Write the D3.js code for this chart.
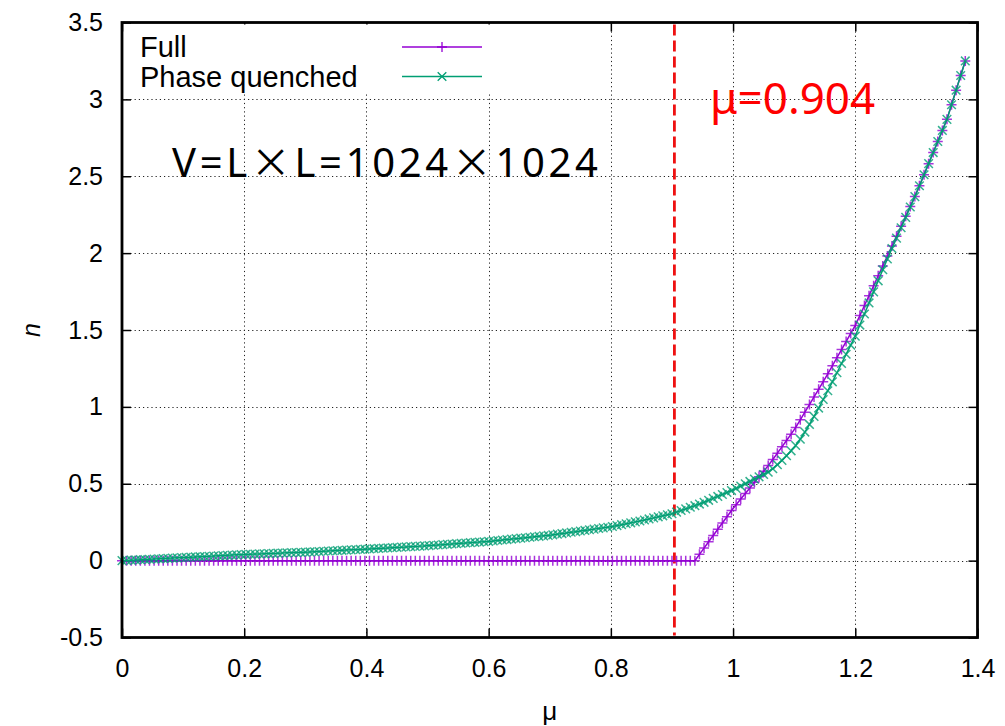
<!DOCTYPE html>
<html>
<head>
<meta charset="utf-8">
<script src="https://cdn.jsdelivr.net/npm/d3@7"></script>
<style>
    body { margin: 0; background: #fff; }
    svg { display: block; }
    .tick text { font-family: "Liberation Sans", Arial, sans-serif; }
</style>
</head>
<body>
<script>
// chemical potential grid (x) -- one point every 0.0075
var muStep = 0.0075;

// density n, full ensemble
var full = [
    0, 0, 0, 0, 0, 0, 0, 0, 0, 0, 0, 0, 0, 0, 0, 0, 0, 0, 0, 0,
    0, 0, 0, 0, 0, 0, 0, 0, 0, 0, 0, 0, 0, 0, 0, 0, 0, 0, 0, 0,
    0, 0, 0, 0, 0, 0, 0, 0, 0, 0, 0, 0, 0, 0, 0, 0, 0, 0, 0, 0,
    0, 0, 0, 0, 0, 0, 0, 0, 0, 0, 0, 0, 0, 0, 0, 0, 0, 0, 0, 0,
    0, 0, 0, 0, 0, 0, 0, 0, 0, 0, 0, 0, 0, 0, 0, 0, 0, 0, 0, 0,
    0, 0, 0, 0, 0, 0, 0, 0, 0, 0, 0, 0, 0, 0, 0, 0, 0, 0, 0, 0,
    0, 0, 0, 0, 0, 0,
    .0408, .0816, .1224, .1632,
    .204, .2448, .2856, .3264, .364, .4005, .4368, .473, .5093, .5455,
    .5818, .618, .6575, .6988, .74, .7813, .8225, .8665, .916, .9655,
    1.015, 1.0645, 1.114, 1.1635, 1.215, 1.2675, 1.32, 1.3725, 1.425, 1.4775,
    1.53, 1.5945, 1.659, 1.7235, 1.788, 1.8525, 1.917, 1.9815, 2.046, 2.1105,
    2.175, 2.2395, 2.304, 2.3685, 2.438, 2.51, 2.582, 2.654, 2.726, 2.798,
    2.87, 2.965, 3.06, 3.155, 3.25
];

// density n, phase quenched
var quenched = [
    0, .0015, .003, .0045, .006, .0075, .009, .0105, .012, .0135,
    .015, .0165, .018, .0195, .021, .0225, .024, .0255, .027, .0285,
    .030, .0315, .033, .0345, .036, .0375, .039, .0404, .0415, .0426,
    .0438, .0449, .046, .0471, .0483, .0494, .0505, .0516, .0528, .0539,
    .055, .0565, .058, .0595, .061, .0625, .064, .0655, .067, .0685,
    .07, .0715, .073, .0745, .0761, .0778, .0794, .0811, .0827, .0844,
    .086, .0877, .0893, .091, .0926, .0943, .0959, .0977, .0998, .1019,
    .104, .1061, .1082, .1103, .1124, .1145, .1166, .1187, .1208, .1229,
    .125, .128, .131, .134, .137, .14, .143, .146, .149, .152,
    .155, .158, .161, .164, .1678, .1719, .176, .1802, .1843, .1884,
    .1925, .1966, .2008, .2049, .209, .2131, .2173, .222, .228, .234,
    .24, .246, .252, .258, .2645, .2713, .278, .2848, .2915, .2983,
    .305, .3155, .326, .3365, .347, .3575, .368, .3793, .392, .4048,
    .4175, .4303, .443, .4558, .47, .485, .5, .515, .53, .545,
    .56, .575, .5975, .624, .652, .682, .714, .749, .790, .836,
    .886, .938, .992, 1.048, 1.105, 1.163, 1.222, 1.282, 1.342, 1.402,
    1.46, 1.532, 1.604, 1.676, 1.748, 1.82, 1.892, 1.9625, 2.03, 2.0975,
    2.165, 2.2325, 2.30, 2.3675, 2.438, 2.51, 2.582, 2.654, 2.726, 2.798,
    2.87, 2.965, 3.06, 3.155, 3.25
];

var xTicks = [0, 0.2, 0.4, 0.6, 0.8, 1, 1.2, 1.4],
    yTicks = [-0.5, 0, 0.5, 1, 1.5, 2, 2.5, 3, 3.5],
    muCritical = 0.904;

var series = [
    {label: 'Full', values: full, color: '#9400d3', marker: 'plus'},
    {label: 'Phase quenched', values: quenched, color: '#009e73', marker: 'cross'}
];

var W = 1005, H = 726,
    plotL = 122, plotT = 22.5, plotR = 977.5, plotB = 637.5,
    font = '"Liberation Sans", Arial, sans-serif',
    sans = '"Noto Sans", "Open Sans", sans-serif';

var svg = d3.select('body').append('svg')
        .attr('width', W)
        .attr('height', H),
    xScale = d3.scaleLinear().domain([0, 1.4]).range([plotL, plotR]),
    yScale = d3.scaleLinear().domain([-0.5, 3.5]).range([plotB, plotT]),
    line = d3.line()
        .x(function(d) { return xScale(d.mu); })
        .y(function(d) { return yScale(d.n); }),
    markerPath = {
        plus: 'M-5,0H5M0,-5V5',
        cross: 'M-4.3,-4.3L4.3,4.3M-4.3,4.3L4.3,-4.3'
    },
    plainNum = function(d) { return String(d); };

svg.append('rect')
    .attr('width', W)
    .attr('height', H)
    .attr('fill', '#fff');

// dotted grid
var grid = svg.append('g')
    .attr('stroke', '#222')
    .attr('stroke-width', 1)
    .attr('stroke-dasharray', '1.2,3');

grid.selectAll('.gx')
    .data(xTicks.slice(1, -1))
    .enter()
    .append('line')
    .attr('x1', function(d) { return Math.round(xScale(d)) + 0.5; })
    .attr('x2', function(d) { return Math.round(xScale(d)) + 0.5; })
    .attr('y1', plotB)
    .attr('y2', plotT);

grid.selectAll('.gy')
    .data(yTicks.slice(1, -1))
    .enter()
    .append('line')
    .attr('y1', function(d) { return Math.round(yScale(d)) + 0.5; })
    .attr('y2', function(d) { return Math.round(yScale(d)) + 0.5; })
    .attr('x1', plotL)
    .attr('x2', plotR);

// axes, ticks pointing inward on all four sides
var xAxis = svg.append('g')
        .attr('transform', 'translate(0,' + plotB + ')')
        .call(d3.axisBottom(xScale).tickValues(xTicks).tickSizeInner(-9).tickSizeOuter(0).tickPadding(22)
            .tickFormat(plainNum)),
    xAxisTop = svg.append('g')
        .attr('transform', 'translate(0,' + plotT + ')')
        .call(d3.axisTop(xScale).tickValues(xTicks).tickSizeInner(-9).tickSizeOuter(0).tickFormat('')),
    yAxis = svg.append('g')
        .attr('transform', 'translate(' + plotL + ',0)')
        .call(d3.axisLeft(yScale).tickValues(yTicks).tickSizeInner(-9).tickSizeOuter(0).tickPadding(19)
            .tickFormat(plainNum)),
    yAxisRight = svg.append('g')
        .attr('transform', 'translate(' + plotR + ',0)')
        .call(d3.axisRight(yScale).tickValues(yTicks).tickSizeInner(-9).tickSizeOuter(0).tickFormat(''));

[xAxis, xAxisTop, yAxis, yAxisRight].forEach(function(ax) {
    ax.select('.domain').remove();
    ax.selectAll('line')
        .attr('stroke', '#000')
        .attr('stroke-width', 1.5);
    ax.selectAll('text')
        .attr('fill', '#000')
        .style('font-size', '25px');
});

// red dashed line at the critical mu
svg.append('line')
    .attr('x1', xScale(muCritical))
    .attr('x2', xScale(muCritical))
    .attr('y1', plotT + 2)
    .attr('y2', plotB - 2)
    .attr('stroke', '#ee1111')
    .attr('stroke-width', 2.8)
    .attr('stroke-dasharray', '11,5');

// curves + point markers
var plot = svg.append('g');

series.forEach(function(s) {
    var pts = s.values.map(function(v, i) { return {mu: i * muStep, n: v}; }),
        g = plot.append('g');

    g.append('path')
        .datum(pts)
        .attr('d', line)
        .attr('fill', 'none')
        .attr('stroke', s.color)
        .attr('stroke-width', 1.5);

    g.selectAll('.pt')
        .data(pts)
        .enter()
        .append('path')
        .attr('transform', function(d) { return 'translate(' + xScale(d.mu) + ',' + yScale(d.n) + ')'; })
        .attr('d', markerPath[s.marker])
        .attr('fill', 'none')
        .attr('stroke', s.color)
        .attr('stroke-opacity', 0.8)
        .attr('stroke-width', 1.5);
});

// key (opaque box like gnuplot)
svg.append('rect')
    .attr('x', plotL + 2)
    .attr('y', plotT + 2)
    .attr('width', 372)
    .attr('height', 68)
    .attr('fill', '#fff');

var legend = svg.append('g').selectAll('.legend')
    .data(series)
    .enter()
    .append('g')
    .attr('class', 'legend')
    .attr('transform', function(d, i) { return 'translate(0,' + (47 + i * 29.5) + ')'; });

legend.append('text')
    .attr('x', 140)
    .attr('dy', '.35em')
    .style('font-family', font)
    .style('font-size', '29px')
    .text(function(d) { return d.label; });

legend.append('line')
    .attr('x1', 402)
    .attr('x2', 482)
    .attr('stroke', function(d) { return d.color; })
    .attr('stroke-width', 1.4);

legend.append('path')
    .attr('transform', 'translate(442,0)')
    .attr('d', function(d) { return markerPath[d.marker]; })
    .attr('fill', 'none')
    .attr('stroke', function(d) { return d.color; })
    .attr('stroke-width', 1.3);

// frame
svg.append('rect')
    .attr('x', plotL)
    .attr('y', plotT)
    .attr('width', plotR - plotL)
    .attr('height', plotB - plotT)
    .attr('fill', 'none')
    .attr('stroke', '#000')
    .attr('stroke-width', 2.8);

// axis labels
svg.append('text')
    .attr('x', (plotL + plotR) / 2)
    .attr('y', 720)
    .attr('text-anchor', 'middle')
    .style('font-family', font)
    .style('font-size', '26px')
    .text('μ');

svg.append('text')
    .attr('transform', 'translate(40,' + ((plotT + plotB) / 2) + ') rotate(-90)')
    .attr('text-anchor', 'middle')
    .style('font-family', font)
    .style('font-style', 'italic')
    .style('font-size', '25px')
    .text('n');

// annotations
svg.append('text')
    .attr('x', 710)
    .attr('y', 114)
    .attr('fill', '#ff0000')
    .style('font-family', sans)
    .style('font-size', '44px')
    .text('μ=0.904');

var vol = svg.append('text')
    .attr('x', 172)
    .attr('y', 177)
    .attr('fill', '#000')
    .attr('textLength', 426)
    .attr('lengthAdjust', 'spacing')
    .style('font-family', sans)
    .style('font-size', '40px');

[['V=L', sans], ['×', '"Noto Sans CJK JP", sans-serif'], ['L=1024', sans],
 ['×', '"Noto Sans CJK JP", sans-serif'], ['1024', sans]].forEach(function(p) {
    vol.append('tspan')
        .style('font-family', p[1])
        .text(p[0]);
});
</script>
</body>
</html>
